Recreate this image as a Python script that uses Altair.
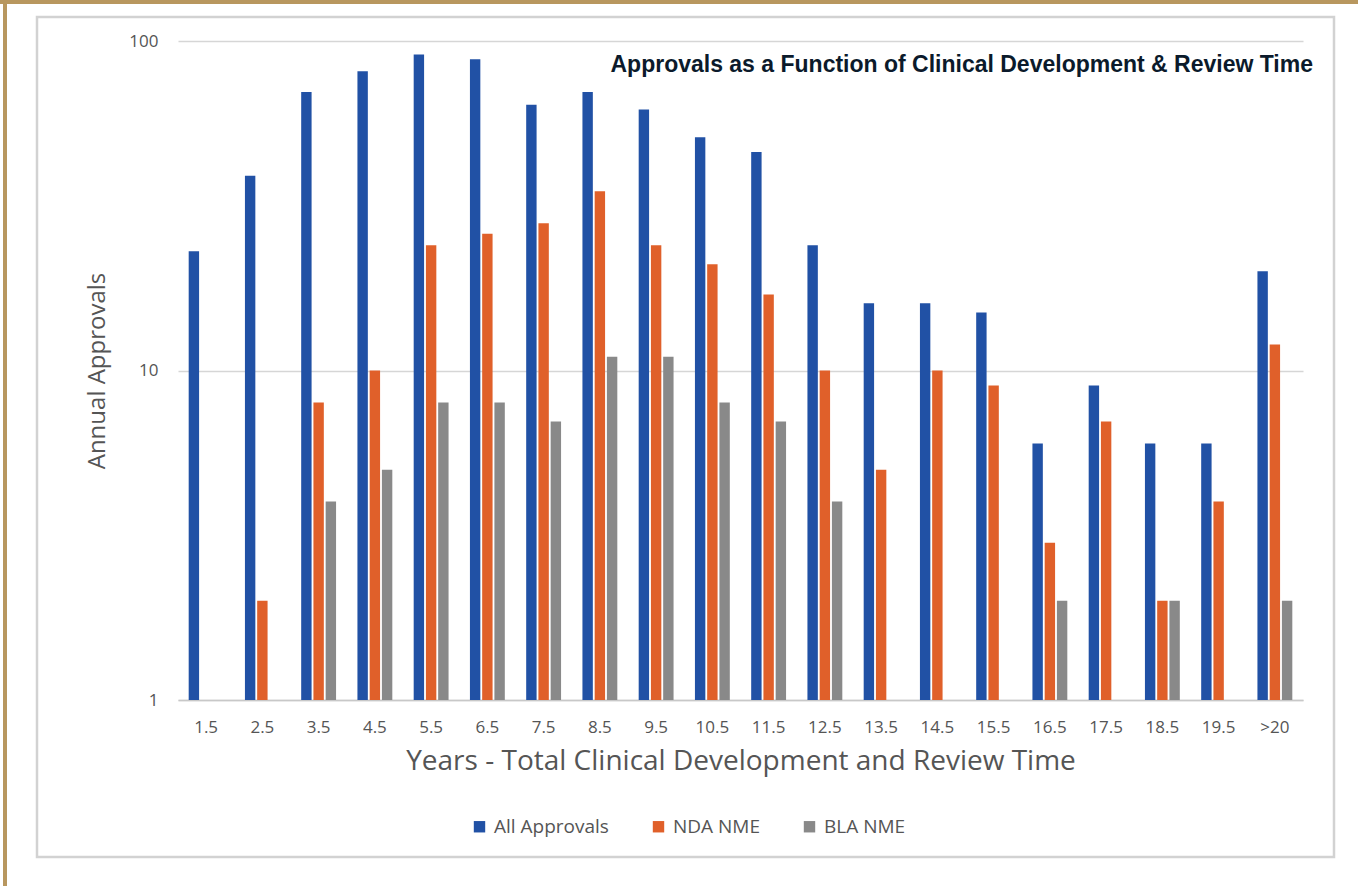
import altair as alt
import pandas as pd

years = ["1.5", "2.5", "3.5", "4.5", "5.5", "6.5", "7.5", "8.5", "9.5", "10.5",
         "11.5", "12.5", "13.5", "14.5", "15.5", "16.5", "17.5", "18.5", "19.5", ">20"]
all_approvals = [23, 39, 70, 81, 91, 88, 64, 70, 62, 51, 46, 24, 16, 16, 15, 6, 9, 6, 6, 20]
nda_nme = [None, 2, 8, 10, 24, 26, 28, 35, 24, 21, 17, 10, 5, 10, 9, 3, 7, 2, 4, 12]
bla_nme = [None, None, 4, 5, 8, 8, 7, 11, 11, 8, 7, 4, None, None, None, 2, None, 2, None, 2]
series = ["All Approvals", "NDA NME", "BLA NME"]
colors = ["#2151A5", "#E0602A", "#898989"]

rows = []
for s, vals in zip(series, [all_approvals, nda_nme, bla_nme]):
    for y, v in zip(years, vals):
        if v is not None:
            rows.append({"year": y, "series": s, "value": v})
df = pd.DataFrame(rows)

LABEL = "#555555"

bars = alt.Chart(df).mark_bar().encode(
    x=alt.X("year:N", sort=years,
            scale=alt.Scale(paddingInner=0.38, paddingOuter=0.19),
            axis=alt.Axis(title="Years - Total Clinical Development and Review Time",
                          labelAngle=0, labelFont="Open Sans", labelFontSize=17,
                          labelColor=LABEL, labelPadding=19, ticks=False,
                          domainColor="#C8C8C8", domainWidth=1.5,
                          titleFont="Open Sans", titleFontSize=28, titleFontWeight="normal",
                          titleColor=LABEL, titlePadding=12)),
    xOffset=alt.XOffset("series:N", sort=series,
                        scale=alt.Scale(paddingInner=0.15, paddingOuter=0)),
    y=alt.Y("value:Q",
            scale=alt.Scale(type="log", domain=[1, 100]),
            axis=alt.Axis(title="Annual Approvals", values=[1, 10, 100], format="d",
                          labelFont="Open Sans", labelFontSize=17, labelColor=LABEL,
                          labelPadding=20, ticks=False, domain=False,
                          gridColor="#D6D6D6", gridWidth=1.5,
                          titleFont="Open Sans", titleFontSize=24, titleFontWeight="normal",
                          titleColor=LABEL, titlePadding=19)),
    y2=alt.datum(1),
    color=alt.Color("series:N", sort=series,
                    scale=alt.Scale(domain=series, range=colors),
                    legend=alt.Legend(title=None, orient="none", direction="horizontal",
                                      legendX=292, legendY=776,
                                      symbolType="square", symbolSize=130,
                                      symbolStrokeWidth=0, labelFont="Open Sans",
                                      labelFontSize=19, labelColor=LABEL,
                                      labelOffset=5, columnPadding=40)),
)

frame_df = pd.DataFrame({"k": [0]})
gray_box = alt.Chart(frame_df).mark_rect(filled=False, stroke="#D2D2D2", strokeWidth=2.5).encode(
    x=alt.value(-141), x2=alt.value(1156), y=alt.value(-24), y2=alt.value(816))
gold_top = alt.Chart(frame_df).mark_rect(color="#B8975F").encode(
    x=alt.value(-178), x2=alt.value(1180), y=alt.value(-41), y2=alt.value(-37))
gold_left = alt.Chart(frame_df).mark_rect(color="#B8975F").encode(
    x=alt.value(-175), x2=alt.value(-171), y=alt.value(-41), y2=alt.value(845))

chart = alt.layer(gray_box, gold_top, gold_left, bars).properties(
    width=1125, height=659,
    autosize=alt.AutoSizeParams(type="none"),
    padding={"left": 178, "top": 41, "right": 55, "bottom": 186},
    background="white",
    title=alt.TitleParams(text="Approvals as a Function of Clinical Development & Review Time",
                          anchor="end", frame="group", font="Liberation Sans", fontSize=23,
                          fontWeight="bold", color="#0B1A2B", dx=10, dy=81),
).configure_view(stroke=None)

chart.save("out.html", embed_options={"renderer": "svg", "actions": False})
